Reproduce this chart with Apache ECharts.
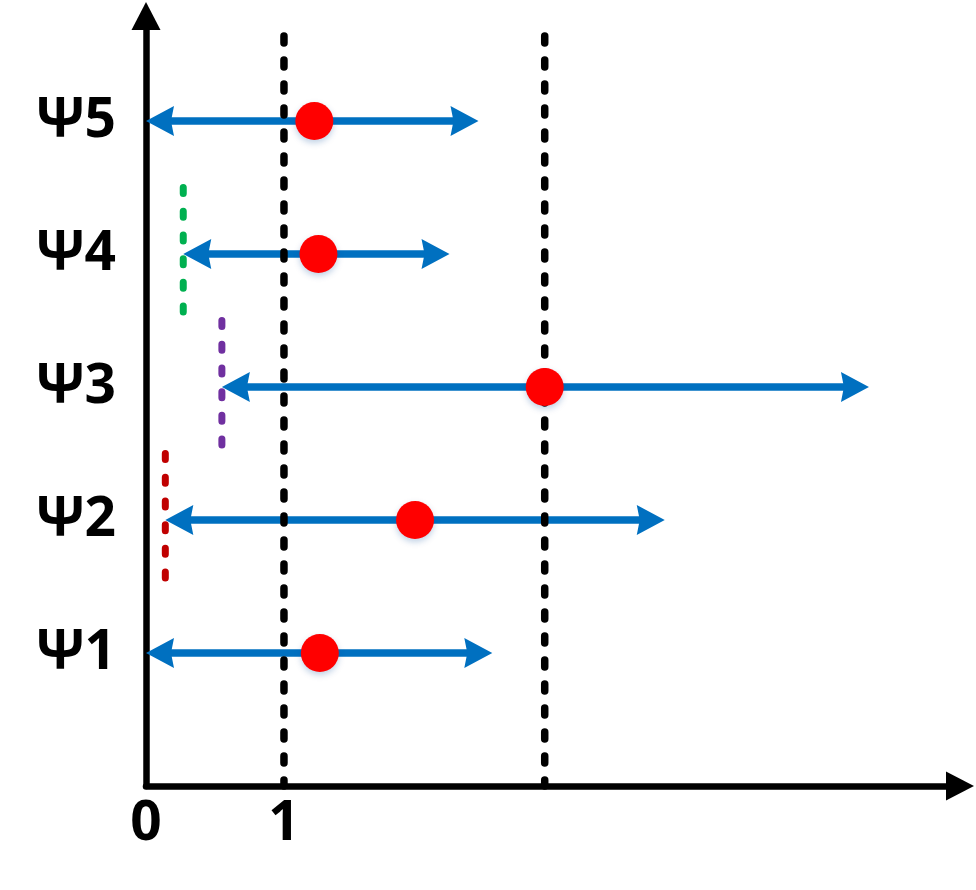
<!DOCTYPE html>
<html>
<head>
<meta charset="utf-8">
<script src="https://cdn.jsdelivr.net/npm/echarts@6/dist/echarts.min.js"></script>
<style>
  html, body { margin: 0; padding: 0; background: #fff; }
  #container { width: 976px; height: 890px; }
</style>
</head>
<body>
<div id="container"></div>
<script>
// rows, bottom to top
var rows = ['Ψ1', 'Ψ2', 'Ψ3', 'Ψ4', 'Ψ5'];
var lower = [0, 0.14, 0.55, 0.27, 0];
var upper = [2.51, 3.76, 5.24, 2.20, 2.41];
var estimate = [1.26, 1.95, 2.89, 1.25, 1.22];

// black reference lines
var refX = [1, 2.89];
var refTop = 5.64;

// coloured bound markers (row index, x, from, to)
var boundRow = [2, 3, 4];
var boundX = [0.14, 0.55, 0.27];
var boundFrom = [1.5, 2.5, 3.5];
var boundTo = [2.5, 3.5, 4.5];
var boundColors = ['#C00000', '#7030A0', '#00B050'];

var xTickLabels = ['0', '1'];

var dom = document.getElementById('container');
var myChart = echarts.init(dom);

var intervalData = rows.map(function (r, i) { return [i + 1, lower[i], upper[i]]; });
var dotData = rows.map(function (r, i) { return [estimate[i], i + 1]; });
var refData = refX.map(function (x) { return [x, 0, refTop]; });
var boundData = boundRow.map(function (r, i) { return [boundX[i], boundFrom[i], boundTo[i]]; });

var labelFont = {
    fontSize: 55,
    fontWeight: 'bold',
    color: '#000',
    fontFamily: '"Open Sans", "DejaVu Sans", sans-serif'
};

function dashedSegment(color, width, dash) {
    return function (params, api) {
        var top = api.coord([api.value(0), api.value(2)]);
        var bottom = api.coord([api.value(0), api.value(1)]);
        return {
            type: 'line',
            shape: { x1: top[0], y1: top[1], x2: bottom[0], y2: bottom[1] },
            style: {
                stroke: typeof color === 'function' ? color(params.dataIndex) : color,
                lineWidth: width,
                lineDash: dash,
                lineCap: 'round'
            }
        };
    };
}

var option = {
    animation: false,
    backgroundColor: '#fff',
    grid: { left: 146, right: 16, top: 16, bottom: 104, containLabel: false },
    xAxis: {
        type: 'value',
        min: 0,
        max: 5.9,
        interval: 1,
        axisLine: {
            show: true,
            symbol: ['none', 'triangle'],
            symbolSize: [29, 28],
            lineStyle: { color: '#000', width: 6.5, cap: 'round' }
        },
        axisTick: { show: false },
        splitLine: { show: false },
        axisLabel: Object.assign({
            margin: 11,
            showMaxLabel: false,
            formatter: function (v) {
                return xTickLabels[v] !== undefined && Number.isInteger(v) ? xTickLabels[v] : '';
            }
        }, labelFont)
    },
    yAxis: {
        type: 'value',
        min: 0,
        max: 5.79,
        interval: 1,
        axisLine: {
            show: true,
            symbol: ['none', 'triangle'],
            symbolSize: [29, 28],
            lineStyle: { color: '#000', width: 6.5, cap: 'round' }
        },
        axisTick: { show: false },
        splitLine: { show: false },
        axisLabel: Object.assign({
            margin: 30,
            showMaxLabel: false,
            padding: [0, 0, 6, 0],
            formatter: function (v) {
                return Number.isInteger(v) && v >= 1 && v <= rows.length ? rows[v - 1] : '';
            }
        }, labelFont)
    },
    series: [
        {
            name: 'interval',
            type: 'custom',
            z: 2,
            encode: { x: [1, 2], y: 0 },
            renderItem: function (params, api) {
                var p0 = api.coord([api.value(1), api.value(0)]);
                var p1 = api.coord([api.value(2), api.value(0)]);
                var y = p0[1];
                var L = 28, H = 15, notch = 3;
                var blue = '#0070C0';
                return {
                    type: 'group',
                    children: [
                        {
                            type: 'line',
                            shape: { x1: p0[0] + L - notch - 1, y1: y, x2: p1[0] - L + notch + 1, y2: y },
                            style: { stroke: blue, lineWidth: 7.5 }
                        },
                        {
                            type: 'polygon',
                            shape: { points: [[p0[0], y], [p0[0] + L, y - H], [p0[0] + L - notch, y], [p0[0] + L, y + H]] },
                            style: { fill: blue }
                        },
                        {
                            type: 'polygon',
                            shape: { points: [[p1[0], y], [p1[0] - L, y - H], [p1[0] - L + notch, y], [p1[0] - L, y + H]] },
                            style: { fill: blue }
                        }
                    ]
                };
            },
            data: intervalData
        },
        {
            name: 'reference',
            type: 'custom',
            z: 3,
            encode: { x: 0, y: [1, 2] },
            renderItem: dashedSegment('#000', 7.5, [7, 17]),
            data: refData
        },
        {
            name: 'bound',
            type: 'custom',
            z: 3,
            encode: { x: 0, y: [1, 2] },
            renderItem: dashedSegment(function (i) { return boundColors[i]; }, 7, [6, 17.7]),
            data: boundData
        },
        {
            name: 'estimate',
            type: 'scatter',
            z: 4,
            symbol: 'circle',
            symbolSize: 38,
            itemStyle: {
                color: '#FF0000',
                opacity: 1,
                shadowBlur: 6,
                shadowOffsetY: 3,
                shadowColor: 'rgba(0, 70, 150, 0.25)'
            },
            data: dotData
        }
    ]
};
myChart.setOption(option);
</script>
</body>
</html>
